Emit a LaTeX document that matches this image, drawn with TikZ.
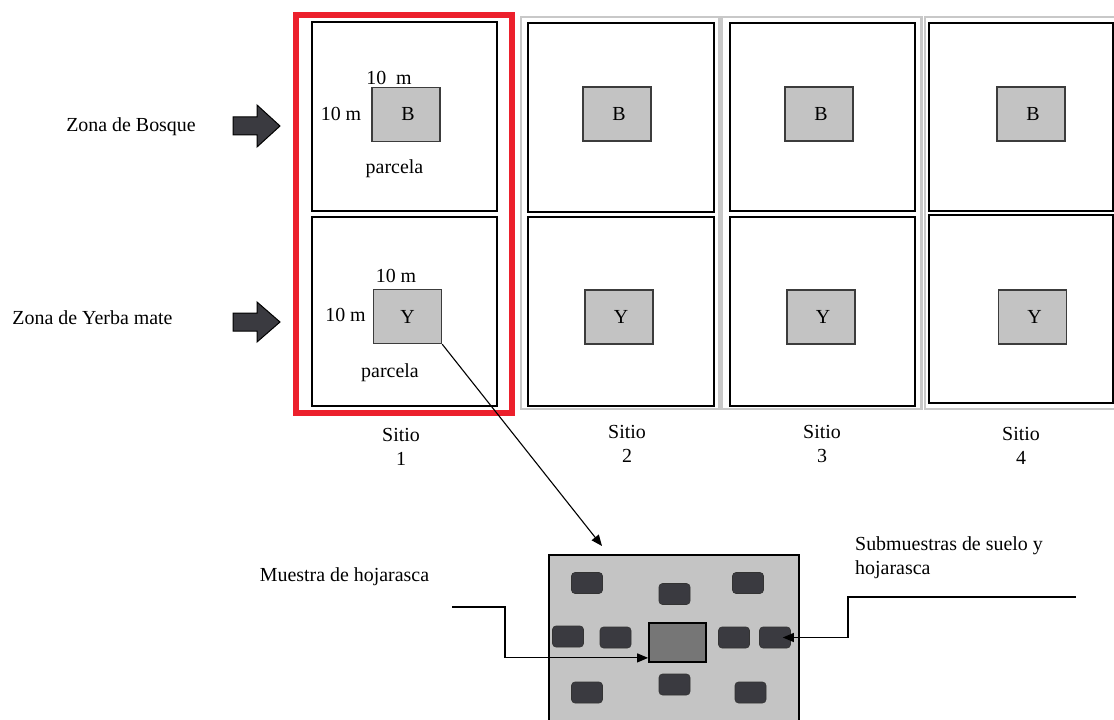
\documentclass[tikz,border=0pt]{standalone}
\usepackage{fontspec}
\setmainfont{Liberation Serif}
\usetikzlibrary{arrows.meta}
\definecolor{redframe}{RGB}{236,32,44}
\definecolor{grayframe}{RGB}{200,200,200}
\definecolor{sqfill}{RGB}{195,195,195}
\definecolor{sqedge}{RGB}{60,60,60}
\definecolor{darksub}{RGB}{58,58,64}
\definecolor{midgray}{RGB}{118,118,118}
\definecolor{platefill}{RGB}{196,196,196}
\newcommand\sqtxt[1]{\hspace*{4bp}#1}
\begin{document}
\begin{tikzpicture}[x=1bp,y=-1bp,
  txt/.style={inner sep=0pt,font=\fontsize{20}{24}\selectfont},
  cellbox/.style={draw=black,line width=1.8bp},
  frame/.style={draw=grayframe,line width=2.5bp},
  sq/.style={draw=sqedge,fill=sqfill,line width=1.4bp,minimum width=68bp,minimum height=54bp,inner sep=0pt,font=\fontsize{20}{24}\selectfont},
  plate/.style={draw=black,fill=platefill,line width=1.8bp,minimum width=250bp,minimum height=175bp,inner sep=0pt},
  sub/.style={draw=black!80,fill=darksub,rounded corners=3.5bp,line width=0.6bp,minimum width=31bp,minimum height=21bp,inner sep=0pt},
  core/.style={draw=black,fill=midgray,line width=1.8bp,minimum width=57bp,minimum height=39bp,inner sep=0pt},
  blockarrow/.style={draw=black,fill=darksub,line width=1bp,line join=miter},
  conn/.style={draw=black,line width=1.1bp,-{Triangle[length=11bp,width=9bp]}},
  plainline/.style={draw=black,line width=1.1bp}
]
\useasboundingbox (0,0) rectangle (1114,720);
\fill[white] (0,0) rectangle (1114,720);

% frames
\draw[redframe,line width=6bp] (296,15) rectangle (512,413);
\draw[frame] (521,17) rectangle (719.5,409);
\draw[frame] (722,17) rectangle (921.5,409);
\draw[frame] (925,17) rectangle (1120,409);

% cells
\draw[cellbox] (312,22) rectangle (497,211);
\draw[cellbox] (312,217) rectangle (497,406);
\draw[cellbox] (528,23) rectangle (714,212);
\draw[cellbox] (528,217) rectangle (714,406);
\draw[cellbox] (730,23) rectangle (915,211);
\draw[cellbox] (730,217) rectangle (915,406);
\draw[cellbox] (929,23) rectangle (1113,211);
\draw[cellbox] (929,215) rectangle (1113,403);

% plots
\node[sq] (B1) at (406,114.5) {\sqtxt{B}};
\node[sq] (Y1) at (407.5,316.5) {Y};
\node[sq] (B2) at (617,114) {\sqtxt{B}};
\node[sq] (Y2) at (619,317) {\sqtxt{Y}};
\node[sq] (B3) at (819,114) {\sqtxt{B}};
\node[sq] (Y3) at (821,317) {\sqtxt{Y}};
\node[sq] (B4) at (1031,114) {\sqtxt{B}};
\node[sq] (Y4) at (1032.5,317) {\sqtxt{Y}};

% site 1 labels
\node[txt,anchor=base] (t1) at (389,84.5) {10\ \ m};
\node[txt,anchor=base] (t2) at (341,121) {10 m};
\node[txt,anchor=base] (t3) at (394.5,173.5) {parcela};
\node[txt,anchor=base] (t4) at (396,282) {10 m};
\node[txt,anchor=base] (t5) at (345.5,321.5) {10 m};
\node[txt,anchor=base] (t6) at (390,377.5) {parcela};

% zone labels and block arrows
\node[txt,anchor=base] (zb) at (131,131.5) {Zona de Bosque};
\node[txt,anchor=base] (zy) at (92.5,324) {Zona de Yerba mate};
\path[blockarrow] (233,117) -- (257,117) -- (257,105) -- (280,126) -- (257,147) -- (257,135) -- (233,135) -- cycle;
\path[blockarrow] (233,313) -- (257,313) -- (257,302) -- (280,322) -- (257,342) -- (257,331) -- (233,331) -- cycle;

% site labels
\node[txt,align=center] (s1) at (401,447) {Sitio\\1};
\node[txt,align=center] (s2) at (627,444) {Sitio\\2};
\node[txt,align=center] (s3) at (822,444) {Sitio\\3};
\node[txt,align=center] (s4) at (1021,446) {Sitio\\4};

% sampling plate
\node[plate] (plate) at (674,642.5) {};
\node[sub] (r1) at (587,583) {};
\node[sub] (r2) at (674.5,594) {};
\node[sub] (r3) at (748,583) {};
\node[sub] (r4) at (568,636.5) {};
\node[sub] (r5) at (615.5,637.5) {};
\node[sub] (r6) at (734,637.5) {};
\node[sub] (r7) at (775,637.5) {};
\node[sub] (r8) at (587,692.5) {};
\node[sub] (r9) at (674.5,684.5) {};
\node[sub] (r10) at (750.5,692.5) {};
\node[core] (c) at (677.5,642.5) {};

% texts near plate
\node[txt,anchor=base] (mh) at (344.5,581) {Muestra de hojarasca};
\node[txt,anchor=west,align=left] (sm) at (855,558) {Submuestras de suelo y\\hojarasca};

% connectors
\coordinate (tip) at (602,546);
\draw[conn] (Y1.south east) -- (tip);
\coordinate (m0) at (452,607);
\coordinate (m1) at (505,607);
\draw[conn] (m0) -- (m1) |- ([yshift=5bp]c.south west);
\coordinate (s0) at (1076,597);
\coordinate (sA) at (848,597);
\draw[conn] (s0) -- (sA) |- ([xshift=-8bp]r7.east);
\end{tikzpicture}
\end{document}
